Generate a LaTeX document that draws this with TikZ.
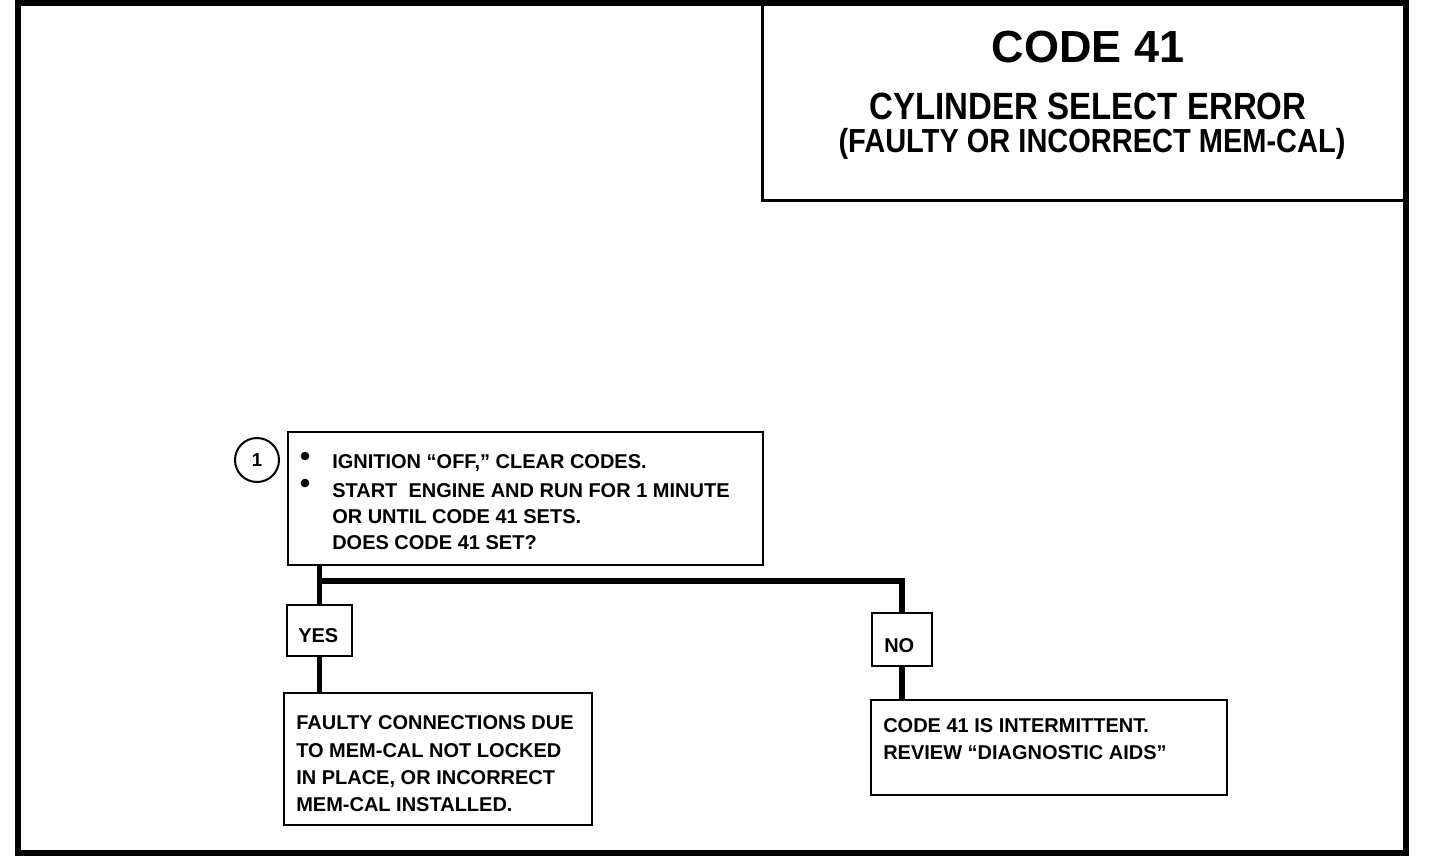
\documentclass[tikz,border=0pt]{standalone}
\usepackage{fontspec}
\setmainfont{Liberation Sans}
\newfontfamily\titlefont{Liberation Sans}[FakeStretch=0.87]
\usetikzlibrary{fit}
\begin{document}
\begin{tikzpicture}[x=0.75pt,y=-0.75pt,
  frame/.style={line width=4.5pt},
  titlebox/.style={draw, line width=2.25pt, inner sep=0pt},
  box/.style={draw, line width=1.9pt, inner sep=0pt},
  conn/.style={line width=3.9pt},
  txt/.style={font=\bfseries\fontsize{15}{17}\selectfont, inner sep=0pt, anchor=base west},
  ttl/.style={inner sep=0pt, anchor=base},
  dot/.style={circle, fill, inner sep=0pt, minimum size=6.5pt},
  numcircle/.style={circle, draw, line width=1.5pt, minimum size=33pt, inner sep=0pt, font=\bfseries\fontsize{14}{16}\selectfont}]
\useasboundingbox (0,0) rectangle (1440,858);
% outer frame
\draw[frame] (18,3) rectangle (1406,853);
% title
\node[titlebox, fit={(762,3) (1406,200)}] (title) {};
\node[ttl, font=\bfseries\fontsize{33.75}{40}\selectfont] (t1) at (1088,62) {CODE 41};
\node[ttl, font=\titlefont\bfseries\fontsize{28.5}{34}\selectfont] (t2) at (1088,119) {CYLINDER SELECT ERROR};
\node[ttl, font=\titlefont\bfseries\fontsize{25}{30}\selectfont] (t3) at (1092,152) {(FAULTY OR INCORRECT MEM-CAL)};
% step 1
\node[numcircle] (c1) at (257,460) {1};
\node[box, fit={(288,432) (763,565)}] (b1) {};
\node[dot] (d1) at (305,456) {};
\node[dot] (d2) at (305,483) {};
\node[txt] (l1) at (332,468) {IGNITION “OFF,” CLEAR CODES.};
\node[txt] (l2) at (332,497) {START~ ENGINE AND RUN FOR 1 MINUTE};
\node[txt] (l3) at (332,523) {OR UNTIL CODE 41 SETS.};
\node[txt] (l4) at (332,549) {DOES CODE 41 SET?};
% yes / no
\node[box, fit={(287,605) (352,656)}] (yes) {};
\node[txt] (yest) at (298,642) {YES};
\node[box, fit={(872,613) (932,666)}] (no) {};
\node[txt] (not) at (884,652) {NO};
% results
\node[box, fit={(284,693) (592,825)}] (ybox) {};
\node[txt] (y1) at (296,729) {FAULTY CONNECTIONS DUE};
\node[txt] (y2) at (296,757) {TO MEM-CAL NOT LOCKED};
\node[txt] (y3) at (296,784) {IN PLACE, OR INCORRECT};
\node[txt] (y4) at (296,811) {MEM-CAL INSTALLED.};
\node[box, fit={(871,700) (1227,795)}] (nbox) {};
\node[txt] (n1) at (883,732) {CODE 41 IS INTERMITTENT.};
\node[txt] (n2) at (883,759) {REVIEW “DIAGNOSTIC AIDS”};
% connectors
\coordinate (j) at (320,581);
\draw[conn] (b1.south -| yes.north) -- (yes.north);
\draw[conn] (j -| yes.north) -| (no.north);
\draw[conn] (yes.south) -- (ybox.north -| yes.south);
\draw[conn] (no.south) -- (nbox.north -| no.south);
\end{tikzpicture}
\end{document}
